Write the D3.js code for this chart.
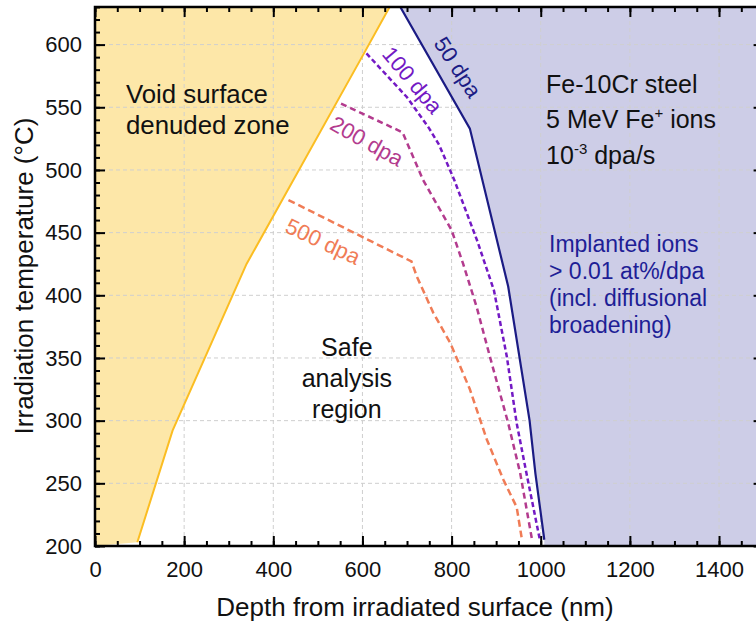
<!DOCTYPE html>
<html>
<head>
<meta charset="utf-8">
<script src="https://cdn.jsdelivr.net/npm/d3@7"></script>
<style>
  html, body { margin: 0; padding: 0; background: #fff; }
  svg { display: block; font-family: "Liberation Sans", Arial, Helvetica, sans-serif; }
</style>
</head>
<body>
<svg id="chart" width="756" height="625"></svg>
<script>
// ---- Data (depth nm, temperature °C) ----
const xTicks = [0, 200, 400, 600, 800, 1000, 1200, 1400];
const yTicks = [200, 250, 300, 350, 400, 450, 500, 550, 600];

const denudedDepth = [95, 174, 340, 605, 661];
const denudedTemp  = [203, 292, 425, 594, 630];

const dpa50Depth = [685, 841, 927, 975, 988, 1008];
const dpa50Temp  = [630, 533, 407, 300, 258, 205];

const dpa100Depth = [609, 700, 750, 772, 806, 858, 895, 924, 946, 968, 998];
const dpa100Temp  = [593, 558, 533, 520, 492, 443, 404, 351, 298, 258, 205];

const dpa200Depth = [552, 690, 736, 800, 826, 856, 886, 927, 954, 980];
const dpa200Temp  = [553, 530, 492, 452, 425, 391, 351, 298, 258, 206];

const dpa500Depth = [434, 710, 722, 759, 797, 841, 879, 916, 946, 957];
const dpa500Temp  = [476, 427, 415, 386, 362, 325, 285, 253, 231, 207];

const curveLabels = ["50 dpa", "100 dpa", "200 dpa", "500 dpa"];

// ---- Layout ----
const svg = d3.select("#chart");
const L = 95, R = 763.6, T = 7, B = 546;
const x = d3.scaleLinear().domain([0, 1500]).range([L, R]);
const y = d3.scaleLinear().domain([200, 630]).range([B, T]);
const zip = (a, b) => a.map((v, i) => [v, b[i]]);
const line = d3.line().x(d => x(d[0])).y(d => y(d[1]));

svg.append("defs").append("clipPath").attr("id", "plotclip")
  .append("rect").attr("x", L).attr("y", T).attr("width", R - L).attr("height", B - T);

const plot = svg.append("g").attr("clip-path", "url(#plotclip)");

// Fills
const denPts = zip(denudedDepth, denudedTemp);
plot.append("path")
  .attr("d", line([[0, 200], ...denPts, [0, 630]]) + "Z")
  .attr("fill", "#fde7a8");

const p50 = zip(dpa50Depth, dpa50Temp);
plot.append("path")
  .attr("d", line([...p50, [dpa50Depth[dpa50Depth.length - 1], 200], [1500, 200], [1500, 630]]) + "Z")
  .attr("fill", "#cdcde7");

// Grid
const grid = plot.append("g").attr("stroke", "#cfcfcf").attr("stroke-width", 1).attr("stroke-dasharray", "4,3");
xTicks.filter(v => v > 0).forEach(v => {
  grid.append("line").attr("x1", x(v)).attr("x2", x(v)).attr("y1", T).attr("y2", B);
});
yTicks.filter(v => v > 200).forEach(v => {
  grid.append("line").attr("x1", L).attr("x2", R).attr("y1", y(v)).attr("y2", y(v));
});

// Lines
plot.append("path").attr("d", line(denPts)).attr("fill", "none")
  .attr("stroke", "#fbbd22").attr("stroke-width", 2);

plot.append("path").attr("d", line(zip(dpa500Depth, dpa500Temp))).attr("fill", "none")
  .attr("stroke", "#f07c56").attr("stroke-width", 2.5).attr("stroke-dasharray", "7,4");
plot.append("path").attr("d", line(zip(dpa200Depth, dpa200Temp))).attr("fill", "none")
  .attr("stroke", "#b33b8e").attr("stroke-width", 2.5).attr("stroke-dasharray", "6,4");
plot.append("path").attr("d", line(zip(dpa100Depth, dpa100Temp))).attr("fill", "none")
  .attr("stroke", "#7319c4").attr("stroke-width", 2.5).attr("stroke-dasharray", "5,3");
plot.append("path").attr("d", line(p50)).attr("fill", "none")
  .attr("stroke", "#1b1b84").attr("stroke-width", 2.2);

// Axes
const xMinor = d3.range(0, 1501, 50);
const yMinor = d3.range(200, 631, 10);
function axisGroup(axis, tx, ty) {
  return svg.append("g").attr("transform", `translate(${tx},${ty})`).call(axis);
}
const fmt = d3.format("d");
axisGroup(d3.axisBottom(x).tickValues(xMinor).tickSize(-5).tickFormat(""), 0, B);
axisGroup(d3.axisBottom(x).tickValues(xTicks).tickSize(-10).tickPadding(15).tickFormat(fmt), 0, B);
axisGroup(d3.axisTop(x).tickValues(xMinor).tickSize(-5).tickFormat(""), 0, T);
axisGroup(d3.axisTop(x).tickValues(xTicks).tickSize(-10).tickFormat(""), 0, T);
axisGroup(d3.axisLeft(y).tickValues(yMinor).tickSize(-5).tickFormat(""), L, 0);
axisGroup(d3.axisLeft(y).tickValues(yTicks).tickSize(-10).tickPadding(13).tickFormat(fmt), L, 0);
axisGroup(d3.axisRight(y).tickValues(yMinor).tickSize(-5).tickFormat(""), R, 0);
axisGroup(d3.axisRight(y).tickValues(yTicks).tickSize(-10).tickFormat(""), R, 0);

svg.selectAll(".domain").remove();
svg.selectAll(".tick line").attr("stroke", "#000").attr("stroke-width", 2);
svg.selectAll(".tick text").attr("font-size", 22).attr("fill", "#111")
  .attr("font-family", "'Liberation Sans', Arial, sans-serif");

// Frame
svg.append("rect").attr("x", L).attr("y", T).attr("width", R - L).attr("height", B - T)
  .attr("fill", "none").attr("stroke", "#000").attr("stroke-width", 2.5);

// Axis titles
svg.append("text").attr("x", 415).attr("y", 616).attr("text-anchor", "middle")
  .attr("font-size", 26).attr("fill", "#111").text("Depth from irradiated surface (nm)");
svg.append("text").attr("transform", "translate(33,276) rotate(-90)").attr("text-anchor", "middle")
  .attr("font-size", 26).attr("fill", "#111").text("Irradiation temperature (°C)");

// Annotations
const ann = svg.append("g").attr("font-size", 25).attr("fill", "#111");
ann.append("text").attr("x", x(69.5)).attr("y", y(553.4)).attr("font-size", 25.8).text("Void surface");
ann.append("text").attr("x", x(69.5)).attr("y", y(553.4) + 31).attr("font-size", 25.8).text("denuded zone");

const safe = ann.append("g").attr("text-anchor", "middle");
["Safe", "analysis", "region"].forEach((s, i) => {
  safe.append("text").attr("x", x(565)).attr("y", y(351.6) + i * 31).text(s);
});

ann.append("text").attr("x", x(1012)).attr("y", y(561.6)).text("Fe-10Cr steel");
const t2 = ann.append("text").attr("x", x(1012)).attr("y", y(561.6) + 35.5);
t2.append("tspan").text("5 MeV Fe");
t2.append("tspan").attr("font-size", 15).attr("dy", -10).text("+");
t2.append("tspan").attr("dy", 10).text(" ions");
const t3 = ann.append("text").attr("x", x(1012)).attr("y", y(561.6) + 71);
t3.append("tspan").text("10");
t3.append("tspan").attr("font-size", 15).attr("dy", -10).text("-3");
t3.append("tspan").attr("dy", 10).text(" dpa/s");

const imp = svg.append("g").attr("font-size", 23).attr("fill", "#1e1e96");
["Implanted ions", "> 0.01 at%/dpa", "(incl. diffusional", "broadening)"].forEach((s, i) => {
  imp.append("text").attr("x", x(1018.6)).attr("y", y(434.5) + i * 27).text(s);
});

// Curve labels (rotated)
const labelSpecs = [
  { t: curveLabels[0], d: 814, T: 582, a: 57, c: "#1b1b84" },
  { t: curveLabels[1], d: 712, T: 571.7, a: 50, c: "#7319c4" },
  { t: curveLabels[2], d: 610, T: 523, a: 29, c: "#b33b8e" },
  { t: curveLabels[3], d: 511.5, T: 443, a: 25, c: "#f07c56" }
];
labelSpecs.forEach(s => {
  svg.append("text")
    .attr("transform", `translate(${x(s.d)},${y(s.T)}) rotate(${s.a})`)
    .attr("text-anchor", "middle").attr("dy", "0.35em")
    .attr("font-size", 22).attr("fill", s.c).text(s.t);
});
</script>
</body>
</html>
